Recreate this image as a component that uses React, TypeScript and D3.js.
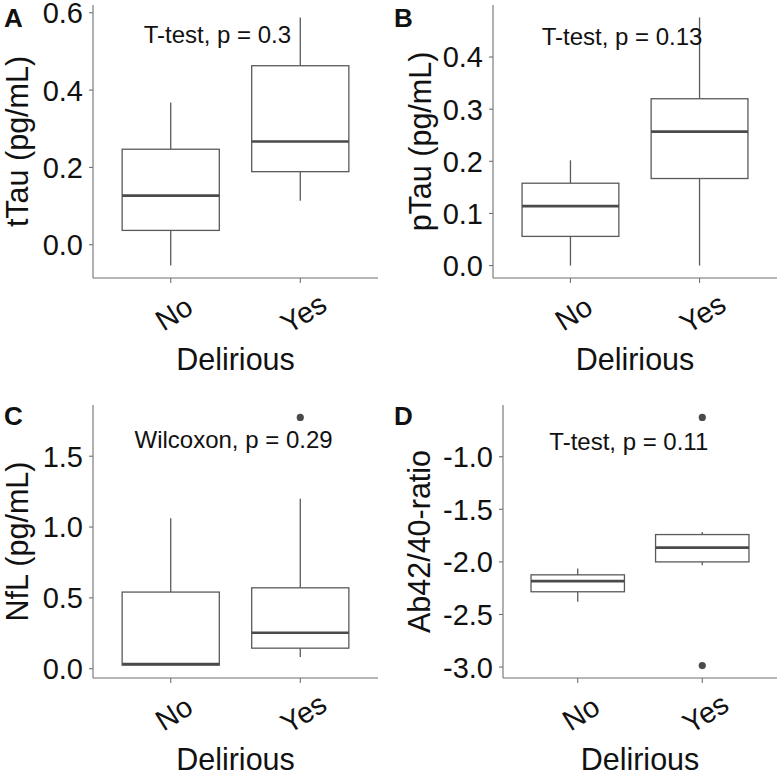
import React from "react";
import * as d3 from "d3";

// ---- data ----
const categories = ["No", "Yes"];

const tTauMin = [-0.054, 0.114];
const tTauQ1 = [0.037, 0.189];
const tTauMedian = [0.127, 0.267];
const tTauQ3 = [0.247, 0.463];
const tTauMax = [0.368, 0.588];
const tTauOutliers: number[][] = [[], []];
const tTauTicks = [0.0, 0.2, 0.4, 0.6];

const pTauMin = [0.0, 0.0];
const pTauQ1 = [0.056, 0.167];
const pTauMedian = [0.114, 0.257];
const pTauQ3 = [0.158, 0.32];
const pTauMax = [0.202, 0.476];
const pTauOutliers: number[][] = [[], []];
const pTauTicks = [0.0, 0.1, 0.2, 0.3, 0.4];

const nflMin = [0.022, 0.082];
const nflQ1 = [0.025, 0.145];
const nflMedian = [0.033, 0.254];
const nflQ3 = [0.541, 0.571];
const nflMax = [1.062, 1.199];
const nflOutliers: number[][] = [[], [1.774]];
const nflTicks = [0.0, 0.5, 1.0, 1.5];

const abMin = [-2.379, -2.031];
const abQ1 = [-2.284, -2.0];
const abMedian = [-2.183, -1.864];
const abQ3 = [-2.123, -1.74];
const abMax = [-2.063, -1.716];
const abOutliers: number[][] = [[], [-0.626, -2.986]];
const abTicks = [-3.0, -2.5, -2.0, -1.5, -1.0];

const panelLetters = ["A", "B", "C", "D"];
const yTitles = ["tTau (pg/mL)", "pTau (pg/mL)", "NfL (pg/mL)", "Ab42/40-ratio"];
const xTitle = "Delirious";
const testLabels = ["T-test, p = 0.3", "T-test, p = 0.13", "Wilcoxon, p = 0.29", "T-test, p = 0.11"];

// ---- layout ----
type Layout = {
  ox: number; oy: number;
  x0: number; x1: number; y0: number; y1: number;
  letterY: number; titleX: number; labelX: number; labelY: number;
};

const FONT = "'Liberation Sans', Arial, Helvetica, sans-serif";
const BOX = "#5a5a5a";
const AXIS = "#707070";

const fmt = (v: number) => d3.format(".1f")(v).replace("\u2212", "-");

function Panel(props: {
  letter: string; yTitle: string; label: string;
  min: number[]; q1: number[]; med: number[]; q3: number[]; max: number[]; out: number[][];
  ticks: number[]; L: Layout;
}) {
  const { letter, yTitle, label, min, q1, med, q3, max, out, ticks, L } = props;
  const all = [...min, ...max, ...out.flat()];
  const lo = d3.min(all) as number;
  const hi = d3.max(all) as number;
  const pad = (hi - lo) * 0.05;
  const y = d3.scaleLinear().domain([lo - pad, hi + pad]).range([L.y1, L.y0]);
  const x = d3.scaleLinear().domain([0.4, 2.6]).range([L.x0, L.x1]);
  const halfW = 0.375;
  return (
    <g transform={`translate(${L.ox},${L.oy})`}>
      <text x={4} y={L.letterY} fontFamily={FONT} fontWeight="bold" fontSize={26} fill="#111">{letter}</text>
      {/* axes */}
      <line x1={L.x0} x2={L.x0} y1={L.y0} y2={L.y1} stroke={AXIS} strokeWidth={1.1} />
      <line x1={L.x0} x2={L.x1} y1={L.y1} y2={L.y1} stroke={AXIS} strokeWidth={1.1} />
      {ticks.map((t) => (
        <g key={t}>
          <line x1={L.x0 - 4} x2={L.x0} y1={y(t)} y2={y(t)} stroke={AXIS} strokeWidth={1.1} />
          <text x={L.x0 - 10} y={y(t)} dy="0.36em" textAnchor="end" fontFamily={FONT} fontSize={29} fill="#111">
            {fmt(t)}
          </text>
        </g>
      ))}
      {categories.map((c, i) => {
        const cx = x(i + 1);
        return (
          <g key={c}>
            <line x1={cx} x2={cx} y1={L.y1} y2={L.y1 + 5} stroke={AXIS} strokeWidth={1.1} />
            <text
              transform={`translate(${cx + 3},${L.y1 + 35}) rotate(-32)`}
              dy="0.36em"
              textAnchor="middle"
              fontFamily={FONT}
              fontSize={29}
              fill="#111"
            >
              {c}
            </text>
          </g>
        );
      })}
      <text x={(L.x0 + L.x1) / 2} y={L.y1 + 92} textAnchor="middle" fontFamily={FONT} fontSize={30.5} fill="#111">
        {xTitle}
      </text>
      <text
        transform={`translate(${L.titleX},${(L.y0 + L.y1) / 2}) rotate(-90)`}
        textAnchor="middle"
        fontFamily={FONT}
        fontSize={30.5}
        fill="#111"
      >
        {yTitle}
      </text>
      {/* boxes */}
      {categories.map((c, i) => {
        const cx = x(i + 1);
        const bl = x(i + 1 - halfW);
        const br = x(i + 1 + halfW);
        return (
          <g key={"b" + c}>
            <line x1={cx} x2={cx} y1={y(q3[i])} y2={y(max[i])} stroke={BOX} strokeWidth={1.3} />
            <line x1={cx} x2={cx} y1={y(q1[i])} y2={y(min[i])} stroke={BOX} strokeWidth={1.3} />
            <rect x={bl} y={y(q3[i])} width={br - bl} height={y(q1[i]) - y(q3[i])} fill="#fff" stroke={BOX} strokeWidth={1.3} />
            <line x1={bl} x2={br} y1={y(med[i])} y2={y(med[i])} stroke="#4a4a4a" strokeWidth={2.6} />
            {out[i].map((o, k) => (
              <circle key={k} cx={cx} cy={y(o)} r={3.6} fill="#4a4a4a" />
            ))}
          </g>
        );
      })}
      <text x={x(L.labelX)} y={L.y0 + L.labelY} textAnchor="middle" fontFamily={FONT} fontSize={24} fill="#111">
        {label}
      </text>
    </g>
  );
}

const layouts: Layout[] = [
  { ox: 0, oy: 0, x0: 93, x1: 378, y0: 5, y1: 278, letterY: 27, titleX: 28, labelX: 1.36, labelY: 38, },
  { ox: 390, oy: 0, x0: 103, x1: 387, y0: 5, y1: 278, letterY: 27, titleX: 41, labelX: 1.4, labelY: 40 },
  { ox: 0, oy: 385, x0: 93, x1: 378, y0: 20, y1: 293, letterY: 40, titleX: 28, labelX: 1.485, labelY: 43 },
  { ox: 390, oy: 385, x0: 113, x1: 387, y0: 20, y1: 293, letterY: 40, titleX: 40, labelX: 1.41, labelY: 45 },
];

export default function App() {
  const sets = [
    { min: tTauMin, q1: tTauQ1, med: tTauMedian, q3: tTauQ3, max: tTauMax, out: tTauOutliers, ticks: tTauTicks },
    { min: pTauMin, q1: pTauQ1, med: pTauMedian, q3: pTauQ3, max: pTauMax, out: pTauOutliers, ticks: pTauTicks },
    { min: nflMin, q1: nflQ1, med: nflMedian, q3: nflQ3, max: nflMax, out: nflOutliers, ticks: nflTicks },
    { min: abMin, q1: abQ1, med: abMedian, q3: abQ3, max: abMax, out: abOutliers, ticks: abTicks },
  ];
  return (
    <svg width={780} height={775} style={{ position: "absolute", left: 0, top: 0, background: "#fff" }}>
      <rect width={780} height={775} fill="#fff" />
      {sets.map((s, i) => (
        <Panel
          key={i}
          letter={panelLetters[i]}
          yTitle={yTitles[i]}
          label={testLabels[i]}
          {...s}
          L={layouts[i]}
        />
      ))}
    </svg>
  );
}
